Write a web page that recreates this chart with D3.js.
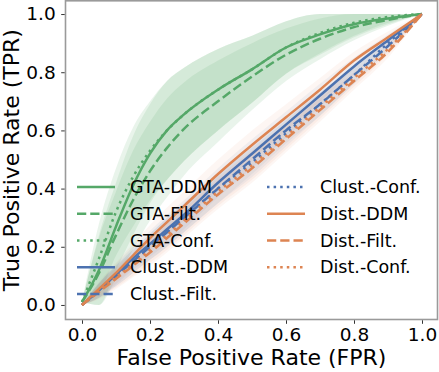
<!DOCTYPE html>
<html>
<head>
<meta charset="utf-8">
<script src="https://cdn.jsdelivr.net/npm/d3@7"></script>
<style>
  html, body { margin: 0; padding: 0; background: #fff; }
  svg { display: block; font-family: "DejaVu Sans", sans-serif; }
</style>
</head>
<body>
<svg id="chart" width="439" height="372"></svg>
<script>
const FPR = [0, 0.05, 0.1, 0.15, 0.2, 0.25, 0.3, 0.4, 0.5, 0.6, 0.7, 0.8, 0.9, 1.0];
const TICKS = [0, 0.2, 0.4, 0.6, 0.8, 1.0];

// mean TPR per method
const gtaDdm   = [0.01, 0.12, 0.27, 0.41, 0.52, 0.60, 0.655, 0.74, 0.81, 0.885, 0.93, 0.965, 0.985, 1.0];
const gtaFilt  = [0.01, 0.11, 0.24, 0.36, 0.46, 0.54, 0.605, 0.70, 0.785, 0.86, 0.915, 0.955, 0.98, 1.0];
const gtaConf  = [0.01, 0.16, 0.32, 0.44, 0.53, 0.60, 0.655, 0.74, 0.81, 0.885, 0.935, 0.97, 0.99, 1.0];
const clDdm    = [0, 0.05, 0.105, 0.16, 0.21, 0.26, 0.31, 0.42, 0.52, 0.62, 0.72, 0.82, 0.91, 1.0];
const clFilt   = [0, 0.05, 0.10, 0.15, 0.20, 0.25, 0.30, 0.40, 0.50, 0.60, 0.69, 0.79, 0.89, 1.0];
const clConf   = [0, 0.05, 0.10, 0.15, 0.20, 0.25, 0.30, 0.40, 0.49, 0.59, 0.69, 0.79, 0.90, 1.0];
const diDdm    = [0, 0.055, 0.11, 0.17, 0.23, 0.285, 0.34, 0.45, 0.55, 0.645, 0.74, 0.84, 0.92, 1.0];
const diFilt   = [0, 0.045, 0.09, 0.135, 0.18, 0.23, 0.28, 0.38, 0.47, 0.57, 0.67, 0.77, 0.87, 1.0];
const diConf   = [0, 0.048, 0.095, 0.14, 0.19, 0.24, 0.29, 0.39, 0.48, 0.58, 0.68, 0.78, 0.88, 1.0];

// spread (std) per group
const gtaSpread = [0, 0.12, 0.15, 0.17, 0.17, 0.17, 0.16, 0.14, 0.115, 0.09, 0.07, 0.045, 0.02, 0];
const baseSpread = [0, 0.025, 0.035, 0.04, 0.045, 0.05, 0.05, 0.05, 0.05, 0.045, 0.04, 0.03, 0.02, 0];

const GREEN = "#55a868", BLUE = "#4c72b0", ORANGE = "#dd8452";

const series = [
  { name: "GTA-DDM", tpr: gtaDdm, color: GREEN, dash: null, spread: gtaSpread },
  { name: "GTA-Filt.", tpr: gtaFilt, color: GREEN, dash: "9.25,4", spread: gtaSpread },
  { name: "GTA-Conf.", tpr: gtaConf, color: GREEN, dash: "2.5,4.1", spread: gtaSpread },
  { name: "Clust.-DDM", tpr: clDdm, color: BLUE, dash: null, spread: baseSpread },
  { name: "Clust.-Filt.", tpr: clFilt, color: BLUE, dash: "9.25,4", spread: baseSpread },
  { name: "Clust.-Conf.", tpr: clConf, color: BLUE, dash: "2.5,4.1", spread: baseSpread },
  { name: "Dist.-DDM", tpr: diDdm, color: ORANGE, dash: null, spread: baseSpread },
  { name: "Dist.-Filt.", tpr: diFilt, color: ORANGE, dash: "9.25,4", spread: baseSpread },
  { name: "Dist.-Conf.", tpr: diConf, color: ORANGE, dash: "2.5,4.1", spread: baseSpread }
];

const svg = d3.select("#chart");
const x = d3.scaleLinear().domain([-0.05, 1.05]).range([65, 439]);
const y = d3.scaleLinear().domain([-0.05, 1.05]).range([319.5, -0.5]);
const frame = { left: 65.5, right: 437.5, top: 0.8, bottom: 319.5 };

svg.append("clipPath").attr("id", "clip")
  .append("rect")
  .attr("x", frame.left).attr("y", frame.top)
  .attr("width", frame.right - frame.left).attr("height", frame.bottom - frame.top);

const plot = svg.append("g").attr("clip-path", "url(#clip)");

// bands
const area = d3.area()
  .x((d, i) => x(FPR[i]))
  .y0(d => y(Math.max(0, d[0])))
  .y1(d => y(Math.min(1, d[1])))
  .curve(d3.curveMonotoneX);

series.forEach(s => {
  const band = s.tpr.map((v, i) => [v - s.spread[i], v + s.spread[i]]);
  plot.append("path")
    .attr("d", area(band))
    .attr("fill", s.color)
    .attr("fill-opacity", s.color === GREEN ? 0.13 : 0.07);
});

// lines
const line = d3.line()
  .x((d, i) => x(FPR[i]))
  .y(d => y(d))
  .curve(d3.curveMonotoneX);

series.forEach(s => {
  plot.append("path")
    .attr("d", line(s.tpr))
    .attr("fill", "none")
    .attr("stroke", s.color)
    .attr("stroke-width", 2.5)
    .attr("stroke-dasharray", s.dash);
});

// frame
svg.append("rect")
  .attr("x", frame.left).attr("y", frame.top)
  .attr("width", frame.right - frame.left).attr("height", frame.bottom - frame.top)
  .attr("fill", "none").attr("stroke", "#9a9a9a").attr("stroke-width", 1.6);

// axes
const xAxis = svg.append("g")
  .attr("transform", `translate(0,${frame.bottom + 0.8})`)
  .call(d3.axisBottom(x).tickValues(TICKS).tickFormat(d3.format(".1f")).tickSizeInner(3.5).tickSizeOuter(0));
const yAxis = svg.append("g")
  .attr("transform", `translate(${frame.left - 0.8},0)`)
  .call(d3.axisLeft(y).tickValues(TICKS).tickFormat(d3.format(".1f")).tickSizeInner(3.5).tickSizeOuter(0));

[xAxis, yAxis].forEach(a => {
  a.select(".domain").remove();
  a.selectAll(".tick line").attr("stroke", "#333").attr("stroke-width", 1);
  a.selectAll(".tick text")
    .attr("fill", "#000")
    .attr("font-size", "18.5px")
    .attr("font-family", "DejaVu Sans, sans-serif");
});
xAxis.selectAll(".tick text").attr("dy", "0.71em").attr("y", 8);
yAxis.selectAll(".tick text").attr("x", -9);

svg.append("text")
  .attr("x", (frame.left + frame.right) / 2)
  .attr("y", 365)
  .attr("text-anchor", "middle")
  .attr("font-size", "22px")
  .text("False Positive Rate (FPR)");

svg.append("text")
  .attr("transform", `translate(19,${(frame.top + frame.bottom) / 2}) rotate(-90)`)
  .attr("text-anchor", "middle")
  .attr("font-size", "22px")
  .text("True Positive Rate (TPR)");

// legend, two columns
const legend = svg.append("g");
series.forEach((s, i) => {
  const col = i < 5 ? 0 : 1;
  const row = i < 5 ? i : i - 5;
  const lx = col === 0 ? 77 : 267;
  const ly = 187 + row * 26.75;
  legend.append("line")
    .attr("x1", lx).attr("x2", lx + 38)
    .attr("y1", ly).attr("y2", ly)
    .attr("stroke", s.color).attr("stroke-width", 2.5)
    .attr("stroke-dasharray", s.dash);
  legend.append("text")
    .attr("x", lx + 53).attr("y", ly)
    .attr("dy", "0.35em")
    .attr("font-size", "17.5px")
    .text(s.name);
});
</script>
</body>
</html>
